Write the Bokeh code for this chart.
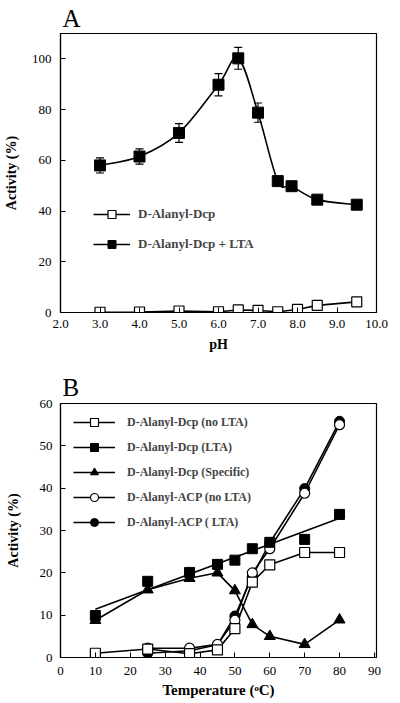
import numpy as np
from bokeh.plotting import figure
from bokeh.layouts import column
from bokeh.models import (Range1d, FixedTicker, PrintfTickFormatter, Legend, LegendItem,
                          Whisker, ColumnDataSource, TeeHead)
from bokeh.embed import file_html
from bokeh.resources import INLINE

# ---------------- Panel A data (pH) ----------------
ph_lta = [3.0, 4.0, 5.0, 6.0, 6.5, 7.0, 7.5, 7.85, 8.5, 9.5]
act_lta = [58.0, 61.5, 70.8, 89.8, 100.2, 78.8, 51.8, 49.8, 44.5, 42.5]
err_lta = [3.0, 3.0, 3.7, 4.4, 4.3, 3.8, 0, 0, 0, 0]
ph_dcp = [3.0, 4.0, 5.0, 6.0, 6.5, 7.0, 7.5, 8.0, 8.5, 9.5]
act_dcp = [0.1, 0.2, 0.6, 0.3, 1.0, 0.8, 0.3, 1.2, 2.8, 4.2]
a_xticks = [2, 3, 4, 5, 6, 7, 8, 9, 10]
a_yticks = [0, 20, 40, 60, 80, 100]

# ---------------- Panel B data (temperature) ----------------
temp = [10, 25, 37, 45, 50, 55, 60, 70, 80]
dcp_nolta = [1.0, 2.0, 0.9, 1.8, 6.8, 17.8, 21.9, 24.8, 24.8]
dcp_lta = [9.9, 18.0, 20.1, 22.0, 23.0, 25.7, 27.2, 27.9, 33.8]
dcp_spec = [8.8, 16.0, 18.7, 20.0, 15.8, 7.8, 5.0, 3.1, 8.9]
temp_acp = [25, 37, 45, 50, 55, 60, 70, 80]
acp_nolta = [2.2, 2.2, 3.1, 8.8, 20.0, 25.7, 38.8, 55.0]
acp_lta = [1.0, 1.6, 3.0, 9.8, 19.2, 27.1, 39.9, 55.8]
b_xticks = [0, 10, 20, 30, 40, 50, 60, 70, 80, 90]
b_yticks = [0, 10, 20, 30, 40, 50, 60]

SERIF = "Liberation Serif"
LW = 1.6


def style(p, xt, yt, xfmt=None):
    p.outline_line_color = "black"
    p.outline_line_width = 1.2
    p.xgrid.grid_line_color = None
    p.ygrid.grid_line_color = None
    p.background_fill_color = "white"
    p.border_fill_color = "white"
    p.title.text_font = SERIF
    p.title.text_font_style = "normal"
    p.title.text_font_size = "25px"
    p.title.text_color = "black"
    p.title.align = "left"
    p.title.offset = 2
    for ax in (p.xaxis[0], p.yaxis[0]):
        ax.axis_line_color = "black"
        ax.axis_line_width = 1.2
        ax.major_tick_in = 5
        ax.major_tick_out = 0
        ax.major_tick_line_color = "black"
        ax.minor_tick_line_color = None
        ax.major_label_text_font = SERIF
        ax.major_label_text_font_size = "13px"
        ax.major_label_text_color = "black"
        ax.axis_label_text_font = SERIF
        ax.axis_label_text_font_style = "bold"
        ax.axis_label_text_color = "black"
    p.xaxis[0].ticker = FixedTicker(ticks=xt)
    p.yaxis[0].ticker = FixedTicker(ticks=yt)
    if xfmt:
        p.xaxis[0].formatter = PrintfTickFormatter(format=xfmt)


# ================= Figure A =================
pA = figure(width=400, height=362, output_backend="svg", toolbar_location=None,
            title="A",
            x_range=Range1d(2, 10), y_range=Range1d(0, 110),
            min_border_left=60, min_border_right=24, min_border_top=33, min_border_bottom=50)
style(pA, a_xticks, a_yticks, "%.1f")
pA.title.standoff = 3
pA.xaxis[0].axis_label = "pH"
pA.yaxis[0].axis_label = "Activity (%)"
pA.xaxis[0].axis_label_text_font_size = "14px"
pA.yaxis[0].axis_label_text_font_size = "14px"
pA.xaxis[0].major_label_standoff = 7
pA.yaxis[0].major_label_standoff = 9
pA.xaxis[0].axis_label_standoff = 6
pA.yaxis[0].axis_label_standoff = 10

# smooth curve through LTA points (Catmull-Rom -> cubic Bezier)
xs = np.array(ph_lta, dtype=float)
ys = np.array(act_lta, dtype=float)
xp = np.concatenate([[xs[0]], xs, [xs[-1]]])
yp = np.concatenate([[ys[0]], ys, [ys[-1]]])
n = len(xs)
bz = dict(x0=[], y0=[], x1=[], y1=[], cx0=[], cy0=[], cx1=[], cy1=[])
for i in range(n - 1):
    j = i + 1
    bz["x0"].append(xp[j]); bz["y0"].append(yp[j])
    bz["x1"].append(xp[j + 1]); bz["y1"].append(yp[j + 1])
    bz["cx0"].append(xp[j] + (xp[j + 1] - xp[j - 1]) / 6)
    bz["cy0"].append(yp[j] + (yp[j + 1] - yp[j - 1]) / 6)
    bz["cx1"].append(xp[j + 1] - (xp[j + 2] - xp[j]) / 6)
    bz["cy1"].append(yp[j + 1] - (yp[j + 2] - yp[j]) / 6)
pA.bezier(x0="x0", y0="y0", x1="x1", y1="y1", cx0="cx0", cy0="cy0", cx1="cx1", cy1="cy1",
          source=ColumnDataSource(bz), line_color="black", line_width=LW)

# error bars
ebx = [x for x, e in zip(ph_lta, err_lta) if e > 0]
ebu = [y + e for y, e in zip(act_lta, err_lta) if e > 0]
ebl = [y - e for y, e in zip(act_lta, err_lta) if e > 0]
wsrc = ColumnDataSource(dict(base=ebx, upper=ebu, lower=ebl))
pA.add_layout(Whisker(source=wsrc, base="base", upper="upper", lower="lower",
                      line_color="black", line_width=1.2,
                      upper_head=TeeHead(size=8, line_color="black", line_width=1.2),
                      lower_head=TeeHead(size=8, line_color="black", line_width=1.2)))

lA1 = pA.line(ph_dcp, act_dcp, line_color="black", line_width=LW)
sA1 = pA.scatter(ph_dcp, act_dcp, marker="square", size=10, fill_color="white",
                 line_color="black", line_width=1.2)
# single-point line: draws nothing in the plot, only supplies the legend's line sample
keyA = pA.line(ph_lta[:1], act_lta[:1], line_color="black", line_width=LW)
sA2 = pA.scatter(ph_lta, act_lta, marker="square", size=11, fill_color="black",
                 line_color="black")

legA = Legend(items=[LegendItem(label="D-Alanyl-Dcp", renderers=[lA1, sA1]),
                     LegendItem(label="D-Alanyl-Dcp + LTA", renderers=[keyA, sA2])],
              location=(33, 58), padding=0, margin=0, spacing=10,
              glyph_width=37, glyph_height=20, label_height=20, label_standoff=8,
              label_text_font=SERIF, label_text_font_style="bold",
              label_text_font_size="13px", border_line_alpha=0, background_fill_alpha=0)
pA.add_layout(legA, "center")

# ================= Figure B =================
pB = figure(width=400, height=340, output_backend="svg", toolbar_location=None,
            title="B",
            x_range=Range1d(0, 90.6), y_range=Range1d(0, 60),
            min_border_left=60, min_border_right=11, min_border_top=41, min_border_bottom=45)
style(pB, b_xticks, b_yticks)
pB.title.standoff = 5
pB.xaxis[0].axis_label = "Temperature (ᵒC)"
pB.yaxis[0].axis_label = "Activity (%)"
pB.xaxis[0].axis_label_text_font_size = "15px"
pB.yaxis[0].axis_label_text_font_size = "14px"
pB.xaxis[0].major_label_standoff = 9
pB.yaxis[0].major_label_standoff = 8
pB.xaxis[0].axis_label_standoff = 4
pB.yaxis[0].axis_label_standoff = 16

# least-squares line for Dcp (LTA)
coef = np.polyfit(np.array(temp, float), np.array(dcp_lta, float), 1)
fx = [temp[0], temp[-1]]
fy = [float(np.polyval(coef, v)) for v in fx]

l1 = pB.line(temp, dcp_nolta, line_color="black", line_width=LW)
l2 = pB.line(fx, fy, line_color="black", line_width=LW)
l3 = pB.line(temp, dcp_spec, line_color="black", line_width=LW)
l4 = pB.line(temp_acp, acp_nolta, line_color="black", line_width=LW)
l5 = pB.line(temp_acp, acp_lta, line_color="black", line_width=LW)

s5 = pB.scatter(temp_acp, acp_lta, marker="circle", size=10, fill_color="black", line_color="black")
s4 = pB.scatter(temp_acp, acp_nolta, marker="circle", size=10, fill_color="white",
                line_color="black", line_width=1.2)
s3 = pB.scatter(temp, dcp_spec, marker="triangle", size=11, fill_color="black", line_color="black")
s2 = pB.scatter(temp, dcp_lta, marker="square", size=10, fill_color="black", line_color="black")
s1 = pB.scatter(temp, dcp_nolta, marker="square", size=10, fill_color="white",
                line_color="black", line_width=1.2)

legB = Legend(items=[LegendItem(label="D-Alanyl-Dcp (no LTA)", renderers=[l1, s1]),
                     LegendItem(label="D-Alanyl-Dcp (LTA)", renderers=[l2, s2]),
                     LegendItem(label="D-Alanyl-Dcp (Specific)", renderers=[l3, s3]),
                     LegendItem(label="D-Alanyl-ACP (no LTA)", renderers=[l4, s4]),
                     LegendItem(label="D-Alanyl-ACP ( LTA)", renderers=[l5, s5])],
              location=(13, 125), padding=0, margin=0, spacing=5,
              glyph_width=42, glyph_height=20, label_height=20, label_standoff=12,
              label_text_font=SERIF, label_text_font_style="bold",
              label_text_font_size="12px", border_line_alpha=0, background_fill_alpha=0)
pB.add_layout(legB, "center")

layout = column(pA, pB, spacing=0)
open("out.html", "w").write(file_html(layout, INLINE))
